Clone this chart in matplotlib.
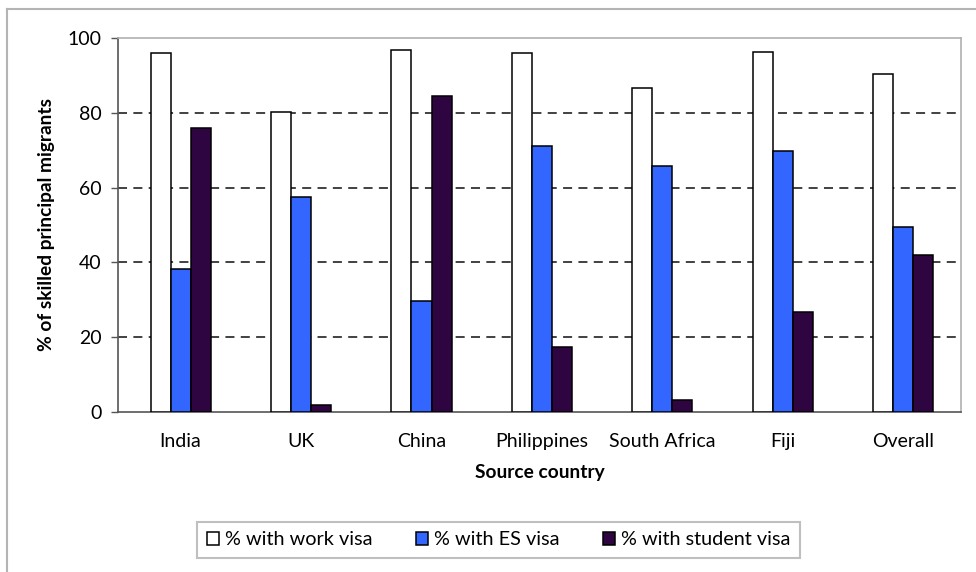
import matplotlib.pyplot as plt
import numpy as np

plt.rcParams['font.family'] = ['Lato', 'DejaVu Sans']

countries = ['India', 'UK', 'China', 'Philippines', 'South Africa', 'Fiji', 'Overall']
work_visa = [96.1, 80.2, 96.7, 96.0, 86.5, 96.2, 90.5]
es_visa = [38.3, 57.4, 29.6, 71.2, 65.9, 69.8, 49.5]
student_visa = [75.8, 1.8, 84.5, 17.3, 3.3, 26.8, 42.0]

series_names = ['% with work visa', '% with ES visa', '% with student visa']
series_colors = ['white', '#3366ff', '#2e0441']

fig = plt.figure(figsize=(9.76, 5.72), dpi=100)
ax = fig.add_axes([0.1209, 0.2797, 0.8637, 0.6539])

x = np.arange(len(countries))
w = 1 / 6
for i, (vals, name, col) in enumerate(zip([work_visa, es_visa, student_visa], series_names, series_colors)):
    ax.bar(x + (i - 1) * w + 0.02, vals, width=w, color=col, edgecolor='black',
           linewidth=1.1, label=name, zorder=3)

ax.set_xlim(-0.5, len(countries) - 0.5)
ax.set_ylim(0, 100)
ax.set_yticks([0, 20, 40, 60, 80, 100])
for g in [20, 40, 60, 80]:
    ax.axhline(g, color='#333333', linewidth=1.3, linestyle=(0, (5, 3.5)), zorder=1)

ax.set_xticks(x + 0.02)
ax.set_xticklabels(countries, fontsize=14)
ax.tick_params(axis='x', length=0, pad=15)
ax.tick_params(axis='y', length=5, width=1, color='#555555', pad=7, labelsize=14)

for side in ['top', 'right']:
    ax.spines[side].set_color('#b0b0b0')
    ax.spines[side].set_linewidth(1.2)
for side in ['left', 'bottom']:
    ax.spines[side].set_color('#555555')
    ax.spines[side].set_linewidth(1.2)

ax.set_ylabel('% of skilled principal migrants', fontsize=13.8, fontweight='bold', labelpad=9)
ax.set_xlabel('Source country', fontsize=13.8, fontweight='bold', labelpad=10)

# outer chart frame
fig.add_artist(plt.Line2D([7 / 976, 1.0], [1 - 9 / 572, 1 - 9 / 572], transform=fig.transFigure,
                          color='#b4b4b4', linewidth=1.5))
fig.add_artist(plt.Line2D([7 / 976, 7 / 976], [0, 1 - 9 / 572], transform=fig.transFigure,
                          color='#b4b4b4', linewidth=1.5))

leg = fig.legend(loc='center', bbox_to_anchor=(0.511, 0.056), ncol=3, fontsize=14.3,
                 frameon=True, fancybox=False, edgecolor='#b0b0b0', handlelength=0.6,
                 handleheight=0.6, handletextpad=0.3, columnspacing=2.2, borderpad=0.5)
leg.get_frame().set_linewidth(1.5)

plt.savefig('out.png', dpi=100)
